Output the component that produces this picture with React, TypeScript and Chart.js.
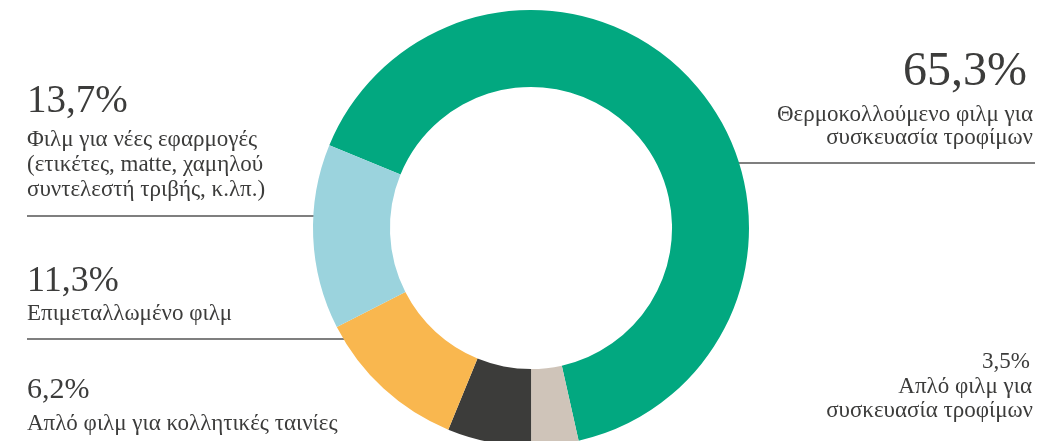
import React, { useEffect, useRef } from "react";
import { Chart, registerables } from "chart.js";

Chart.register(...registerables);

const categories = [
  "Θερμοκολλούμενο φιλμ για συσκευασία τροφίμων",
  "Απλό φιλμ για συσκευασία τροφίμων",
  "Απλό φιλμ για κολλητικές ταινίες",
  "Επιμεταλλωμένο φιλμ",
  "Φιλμ για νέες εφαρμογές (ετικέτες, matte, χαμηλού συντελεστή τριβής, κ.λπ.)",
];
const values = [65.3, 3.5, 6.2, 11.3, 13.7];
const percentLabels = ["65,3%", "3,5%", "6,2%", "11,3%", "13,7%"];
const colors = ["#02a880", "#cfc4b9", "#3c3c3a", "#f9b74f", "#9bd3dd"];

const FONT = "'Liberation Serif', 'DejaVu Serif', serif";
const TEXT = "#3c3c3b";

const leaderLines = [
  { y: 163, side: "right", x: 1035 },
  { y: 216, side: "left", x: 27 },
  { y: 339, side: "left", x: 27 },
];

const leaderPlugin = {
  id: "leaders",
  beforeDatasetsDraw(chart: any) {
    const meta = chart.getDatasetMeta(0);
    const arc = meta.data[0];
    if (!arc) return;
    const { x: cx, y: cy, outerRadius: R } = arc.getProps(["x", "y", "outerRadius"], true);
    const ctx = chart.ctx;
    ctx.save();
    ctx.strokeStyle = "#555555";
    ctx.lineWidth = 1.5;
    leaderLines.forEach((l) => {
      const dy = l.y - cy;
      const dx = Math.sqrt(Math.max(R * R - dy * dy, 0));
      const edge = l.side === "left" ? cx - dx + 2 : cx + dx - 2;
      ctx.beginPath();
      ctx.moveTo(l.x, l.y);
      ctx.lineTo(edge, l.y);
      ctx.stroke();
    });
    ctx.restore();
  },
};

// [text, size, baseline, anchor x, align]
type Item = { t: string; size: number; base: number; x: number; align: "left" | "right" };
const BODY = 23;
const textItems: Item[] = [
  { t: percentLabels[0], size: 48, base: 85, x: 1027, align: "right" },
  { t: "Θερμοκολλούμενο φιλμ για", size: BODY, base: 121, x: 1033, align: "right" },
  { t: "συσκευασία τροφίμων", size: BODY, base: 144, x: 1033, align: "right" },
  { t: percentLabels[4], size: 39, base: 112, x: 27, align: "left" },
  { t: "Φιλμ για νέες εφαρμογές", size: BODY, base: 146, x: 27, align: "left" },
  { t: "(ετικέτες, matte, χαμηλού", size: BODY, base: 171, x: 27, align: "left" },
  { t: "συντελεστή τριβής, κ.λπ.)", size: BODY, base: 196, x: 27, align: "left" },
  { t: percentLabels[3], size: 36, base: 291, x: 27, align: "left" },
  { t: "Επιμεταλλωμένο φιλμ", size: BODY, base: 320, x: 27, align: "left" },
  { t: percentLabels[2], size: 30, base: 398, x: 27, align: "left" },
  { t: "Απλό φιλμ για κολλητικές ταινίες", size: BODY, base: 430, x: 27, align: "left" },
  { t: percentLabels[1], size: 23, base: 368, x: 1030, align: "right" },
  { t: "Απλό φιλμ για", size: BODY, base: 393, x: 1032, align: "right" },
  { t: "συσκευασία τροφίμων", size: BODY, base: 417, x: 1033, align: "right" },
];

export default function App() {
  const ref = useRef<HTMLCanvasElement | null>(null);
  useEffect(() => {
    document.body.style.margin = "0";
    if (!ref.current) return;
    const chart = new Chart(ref.current, {
      type: "doughnut",
      data: {
        labels: categories,
        datasets: [
          {
            data: values,
            backgroundColor: colors,
            borderWidth: 0,
          },
        ],
      },
      options: {
        animation: false,
        responsive: false,
        maintainAspectRatio: false,
        cutout: "64.7%",
        rotation: -67.7,
        layout: { padding: { left: 22, right: 0, top: 10, bottom: 10 } },
        plugins: {
          legend: { display: false },
          tooltip: { enabled: false },
        },
      },
      plugins: [leaderPlugin],
    });
    return () => chart.destroy();
  }, []);

  return (
    <div style={{ position: "fixed", left: 0, top: 0, width: 1040, height: 441, overflow: "hidden", background: "#fff" }}>
      <canvas ref={ref} width={1040} height={456} style={{ position: "absolute", left: 0, top: 0 }} />
      {textItems.map((it, i) => (
        <div
          key={i}
          style={{
            position: "absolute",
            top: it.base - 0.8375 * it.size,
            left: it.align === "left" ? it.x : undefined,
            right: it.align === "right" ? 1040 - it.x : undefined,
            fontFamily: FONT,
            fontSize: it.size,
            lineHeight: it.size + "px",
            color: TEXT,
            whiteSpace: "nowrap",
            textAlign: it.align,
          }}
        >
          {it.t}
        </div>
      ))}
    </div>
  );
}
